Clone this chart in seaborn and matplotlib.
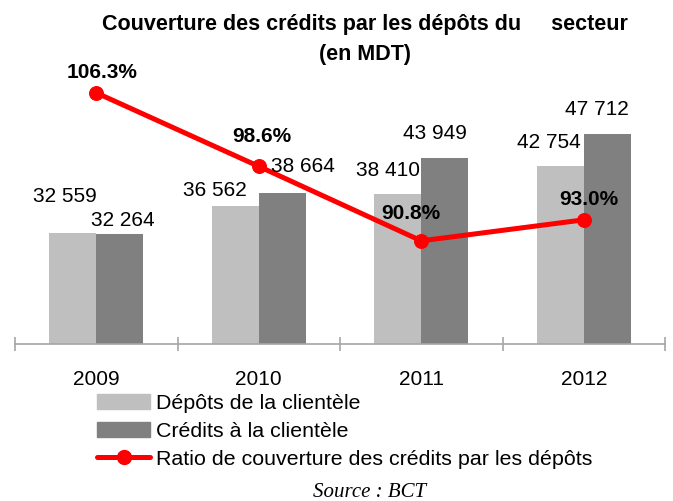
import pandas as pd
import seaborn as sns
import matplotlib.pyplot as plt
import matplotlib.patches as mpatches
from matplotlib.lines import Line2D

# Data
annees = ['2009', '2010', '2011', '2012']
depots = [32559, 36562, 38410, 42754]
credits = [32264, 38664, 43949, 47712]
ratio = [106.3, 98.6, 90.8, 93.0]

serie_depots = 'Dépôts de la clientèle'
serie_credits = 'Crédits à la clientèle'
serie_ratio = 'Ratio de couverture des crédits par les dépôts'

# label nudges in pixels (dx right, dy down) relative to the bar top / point
nudge_depots = [(-8, -36), (-20, -16), (-10, -24), (-11, -23)]
nudge_credits = [(3, -14), (21, -26), (-10, -25), (-10, -24)]
nudge_ratio = [(6, -20), (3, -30), (-10, -27), (5, -20)]

sns.set_style('white')
plt.rcParams['font.family'] = ['Liberation Sans', 'DejaVu Sans']
plt.rcParams['text.color'] = 'black'
plt.rcParams['xtick.color'] = 'black'

df = pd.DataFrame({
    'annee': annees * 2,
    'montant': depots + credits,
    'serie': [serie_depots] * 4 + [serie_credits] * 4,
})

W, H = 673, 501
fig = plt.figure(figsize=(W / 100, H / 100), dpi=100)
ax = fig.add_axes([15 / W, 1 - 344 / H, 650 / W, 264 / H])

colors = ['#BFBFBF', '#808080']
sns.barplot(data=df, x='annee', y='montant', hue='serie', palette=colors,
            width=0.578, saturation=1, legend=False, linewidth=0,
            edgecolor='none', ax=ax)
ax.set_xlim(-0.5, 3.5)
ax.set_ylim(15500, 55900)

ax2 = ax.twinx()
sns.lineplot(x=list(range(len(annees))), y=ratio, ax=ax2, color='red', lw=3.6,
             marker='o', markersize=10, markeredgecolor='red')
ax2.set_ylim(80, 107.64)

px = 72 / 100  # pixels to points

def fmt(v):
    return f"{v:,}".replace(',', ' ')

half = 0.578 / 4
for i in range(len(annees)):
    dx, dy = nudge_depots[i]
    ax2.annotate(fmt(depots[i]), xy=(i - half, depots[i]), xycoords=ax.transData,
                 xytext=(dx * px, -dy * px), textcoords='offset points',
                 ha='center', va='center', fontsize=15)
    dx, dy = nudge_credits[i]
    ax2.annotate(fmt(credits[i]), xy=(i + half, credits[i]), xycoords=ax.transData,
                 xytext=(dx * px, -dy * px), textcoords='offset points',
                 ha='center', va='center', fontsize=15)
    dx, dy = nudge_ratio[i]
    ax2.annotate(f"{ratio[i]:.1f}%", xy=(i, ratio[i]),
                 xytext=(dx * px, -dy * px), textcoords='offset points',
                 ha='center', va='center', fontsize=15, fontweight='bold')

for a in (ax, ax2):
    for s in ('left', 'right', 'top'):
        a.spines[s].set_visible(False)
    a.set_ylabel('')
    a.set_yticks([])
ax2.spines['bottom'].set_visible(False)

ax.spines['bottom'].set_color('#A6A6A6')
ax.spines['bottom'].set_linewidth(1.2)
ax.set_xlabel('')
ax.set_xticks(range(len(annees)))
ax.set_xticklabels(annees, fontsize=15)
ax.set_xticks([-0.5, 0.5, 1.5, 2.5, 3.5], minor=True)
ax.tick_params(axis='x', which='major', bottom=True, length=0, pad=19)
ax.tick_params(axis='x', which='minor', bottom=True, direction='inout', length=10,
               width=1.2, color='#A6A6A6')

fig.suptitle('Couverture des crédits par les dépôts du     secteur\n(en MDT)',
             x=365 / W, y=1 - 14 / H, va='top', fontsize=15.5, fontweight='bold',
             linespacing=1.55)

handles = [mpatches.Patch(color=colors[0]), mpatches.Patch(color=colors[1]),
           Line2D([], [], color='red', lw=3.6, marker='o', markersize=10)]
fig.legend(handles, [serie_depots, serie_credits, serie_ratio], loc='upper left',
           bbox_to_anchor=(97 / W, 1 - 394 / H), frameon=False, fontsize=15.4,
           handlelength=2.5, handletextpad=0.25, labelspacing=0.42,
           borderaxespad=0, borderpad=0)

fig.text(370 / W, 1 - 483 / H, 'Source : BCT', ha='center', va='top',
         fontsize=15, fontstyle='italic', family=['Liberation Serif', 'DejaVu Serif'])

fig.savefig('out.png', dpi=100)
